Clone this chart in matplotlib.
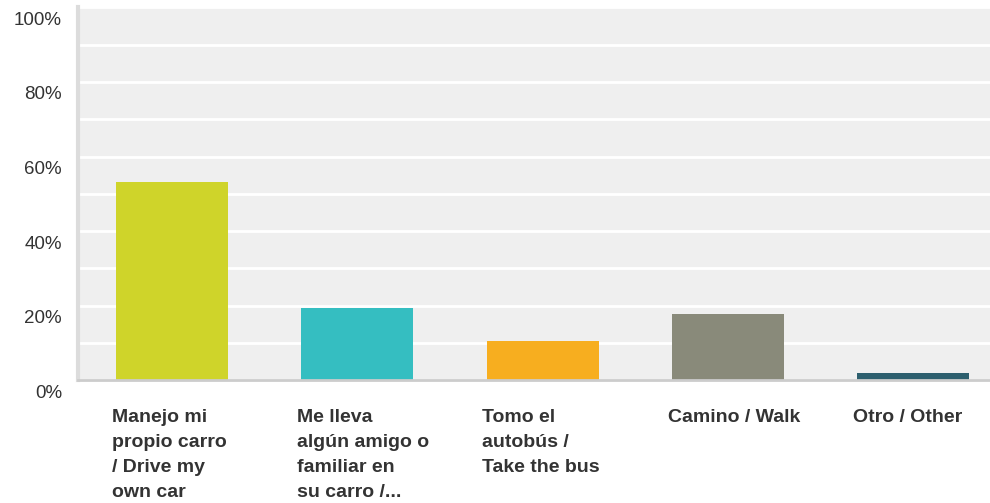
import matplotlib.pyplot as plt
import matplotlib.transforms as mtransforms

categories = ['Manejo mi\npropio carro\n/ Drive my\nown car',
              'Me lleva\nalgún amigo o\nfamiliar en\nsu carro /...',
              'Tomo el\nautobús /\nTake the bus',
              'Camino / Walk',
              'Otro / Other']
values = [53.2, 19.4, 10.5, 17.8, 2.0]
colors = ['#cfd42a', '#35bec1', '#f7ae1f', '#898a7a', '#2d5f6e']
ytick_vals = [0, 20, 40, 60, 80, 100]
ytick_labels = ['0%', '20%', '40%', '60%', '80%', '100%']

plt.rcParams['font.family'] = ['Liberation Sans', 'DejaVu Sans']

fig = plt.figure(figsize=(9.9, 5.03), dpi=100)
ax = fig.add_axes([78 / 990, 1 - 380.3 / 503, 1 - 78 / 990, 372.9 / 503])
ax.set_facecolor('#efefef')

x = list(range(len(categories)))
ax.bar(x, values, width=0.604, color=colors, zorder=3)

ax.set_xlim(-0.507, 4.414)
ax.set_ylim(0, 100)
ax.set_yticks(ytick_vals)
ax.set_yticklabels(ytick_labels, fontsize=13.5, color='#333333')
ax.set_yticks(range(10, 100, 20), minor=True)
ax.yaxis.grid(True, which='both', color='white', linewidth=2, zorder=1)
ax.xaxis.grid(False)
ax.tick_params(axis='y', which='both', length=0, pad=11.5)
ax.set_xticks([])

# the original puts the % labels a bit under their grid lines
shift = mtransforms.ScaledTranslation(0, -11 / 100, fig.dpi_scale_trans)
for lab in ax.get_yticklabels():
    lab.set_transform(lab.get_transform() + shift)

for side in ['top', 'right']:
    ax.spines[side].set_visible(False)
ax.spines['left'].set_color('#dcdcdc')
ax.spines['left'].set_linewidth(3)
ax.spines['left'].set_bounds(0, 100)
ax.spines['bottom'].set_color('#cccccc')
ax.spines['bottom'].set_linewidth(2)
ax.spines['bottom'].set_zorder(4)

for i, lab in enumerate(categories):
    ax.annotate(lab, xy=(i - 0.325, 0), xycoords=('data', 'axes fraction'),
                xytext=(0, -20.5), textcoords='offset points',
                ha='left', va='top', fontsize=14, fontweight='bold',
                color='#333333', linespacing=1.61, annotation_clip=False)

fig.savefig('out.png', dpi=100)
